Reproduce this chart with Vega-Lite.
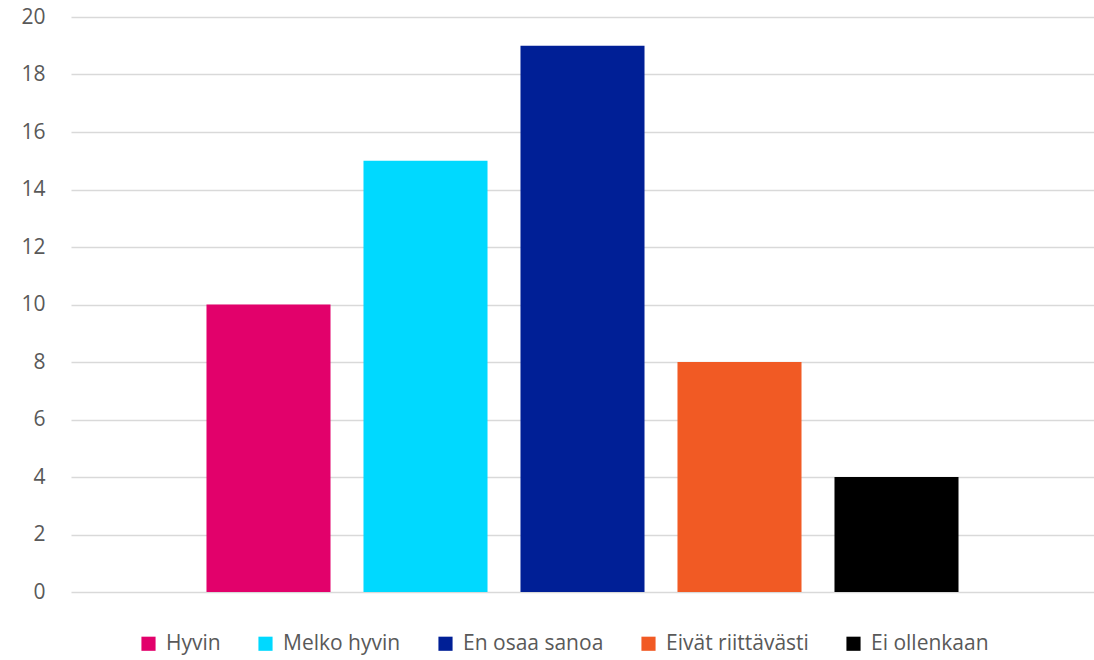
{
  "$schema": "https://vega.github.io/schema/vega-lite/v6.json",
  "width": 1023,
  "height": 575,
  "autosize": "none",
  "padding": {"left": 71, "top": 17, "right": 0, "bottom": 68},
  "background": "white",
  "config": {
    "view": {"stroke": null},
    "font": "Open Sans"
  },
  "data": {
    "values": [
      {"vastaus": "Hyvin", "lkm": 10},
      {"vastaus": "Melko hyvin", "lkm": 15},
      {"vastaus": "En osaa sanoa", "lkm": 19},
      {"vastaus": "Eivät riittävästi", "lkm": 8},
      {"vastaus": "Ei ollenkaan", "lkm": 4}
    ]
  },
  "mark": {"type": "bar"},
  "encoding": {
    "x": {
      "field": "vastaus",
      "type": "nominal",
      "sort": null,
      "scale": {"paddingInner": 0.21, "paddingOuter": 0.863},
      "axis": null
    },
    "y": {
      "field": "lkm",
      "type": "quantitative",
      "scale": {"domain": [0, 20]},
      "axis": {
        "title": null,
        "values": [0, 2, 4, 6, 8, 10, 12, 14, 16, 18, 20],
        "ticks": false,
        "domain": false,
        "labelPadding": 26,
        "labelFontSize": 21,
        "labelColor": "#595959",
        "gridColor": "#d9d9d9",
        "gridWidth": 1.3
      }
    },
    "color": {
      "field": "vastaus",
      "type": "nominal",
      "sort": null,
      "scale": {
        "domain": ["Hyvin", "Melko hyvin", "En osaa sanoa", "Eivät riittävästi", "Ei ollenkaan"],
        "range": ["#E2016B", "#00D9FF", "#001F96", "#F15A24", "#000000"]
      },
      "legend": {
        "title": null,
        "orient": "none",
        "legendX": 67,
        "legendY": 616,
        "direction": "horizontal",
        "symbolType": "square",
        "symbolSize": 200,
        "symbolStrokeWidth": 0,
        "labelFontSize": 21,
        "labelOffset": 7,
        "labelColor": "#595959",
        "columnPadding": 34
      }
    }
  }
}
